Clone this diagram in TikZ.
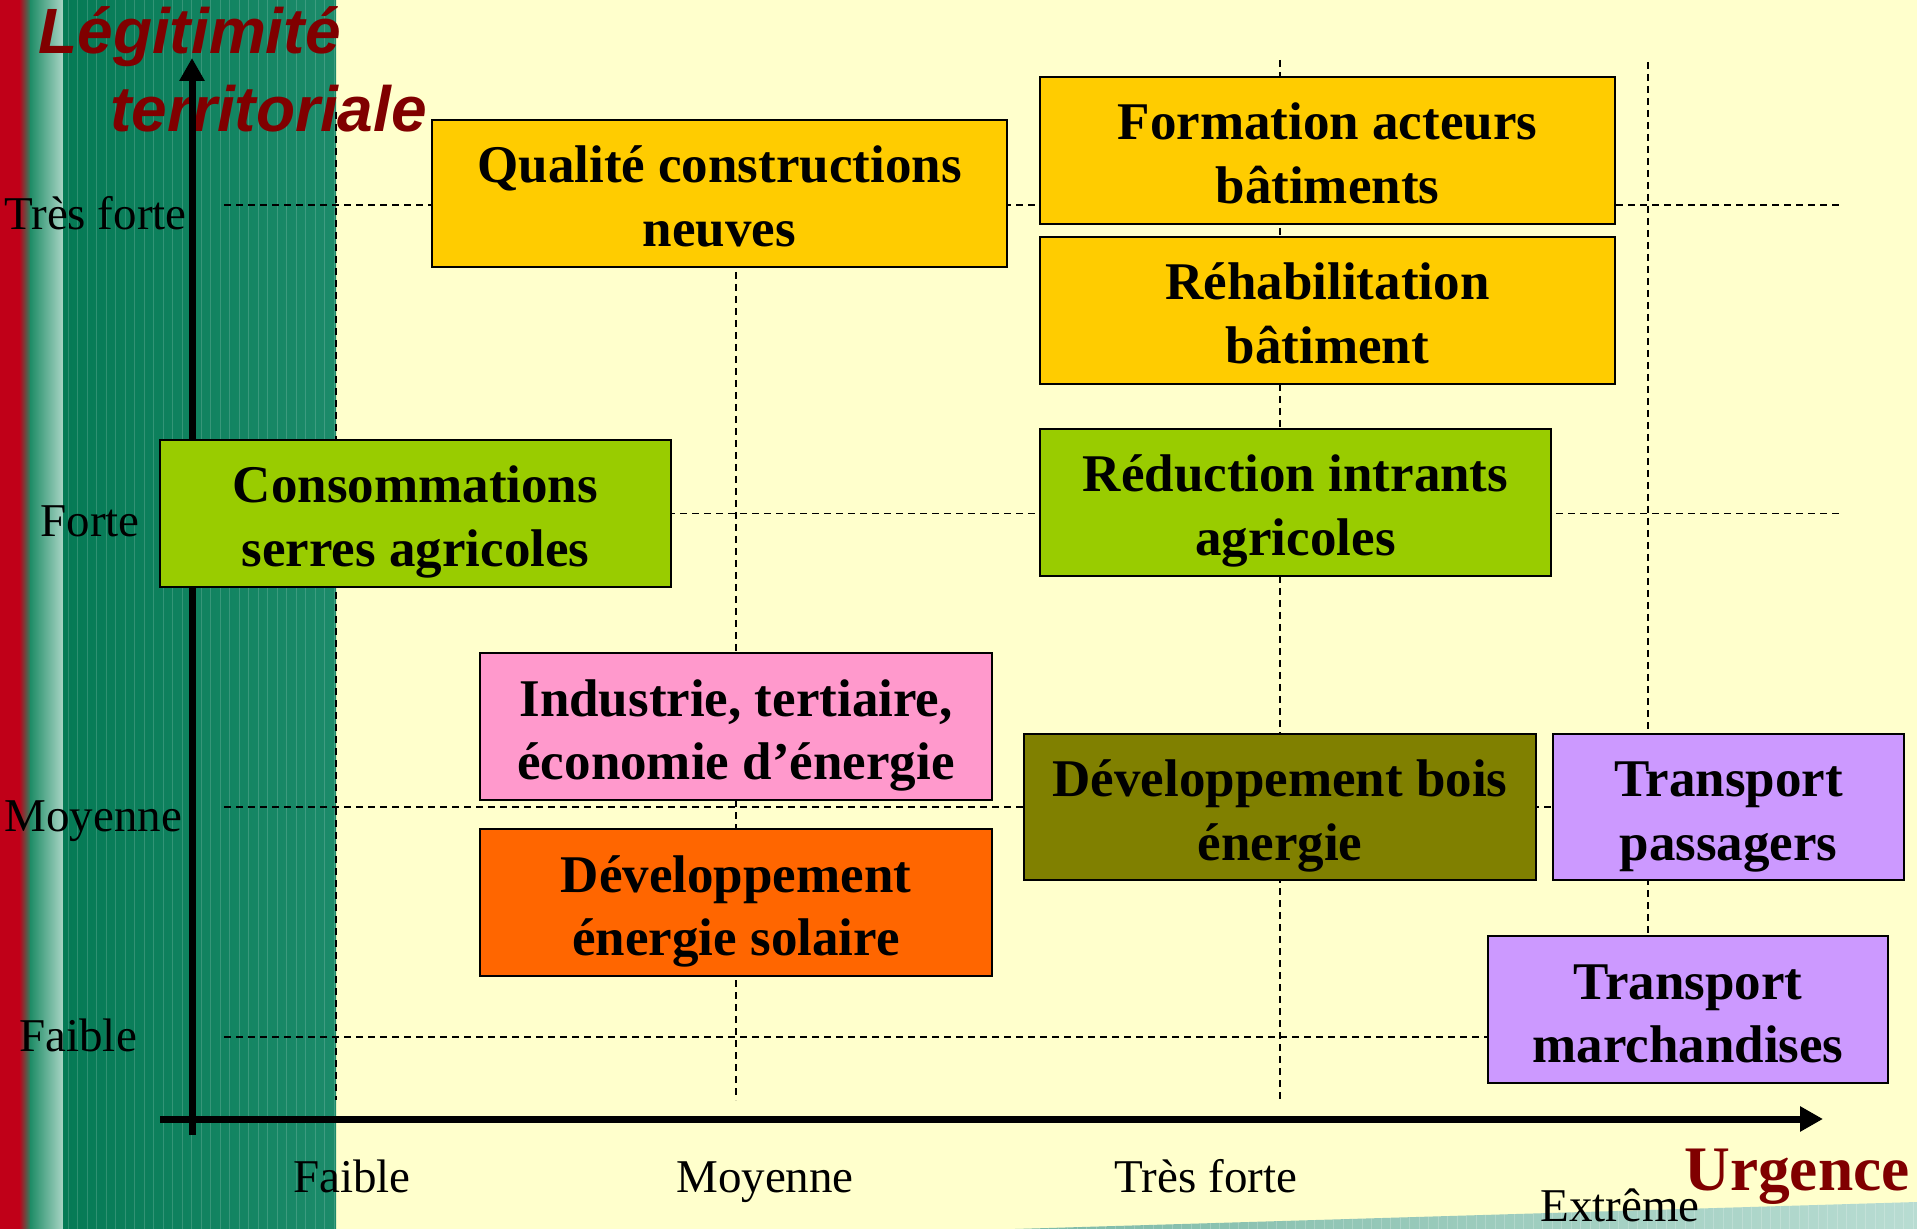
\documentclass[tikz,border=0pt]{standalone}
\usepackage{fontspec}
\setmainfont{Liberation Serif}
\newfontfamily\titlefont{Liberation Sans}
\usetikzlibrary{arrows.meta}
\definecolor{cream}{HTML}{FFFFCC}
\definecolor{stripred}{HTML}{C00018}
\definecolor{stripgreen}{HTML}{1E8C66}
\definecolor{strippale}{HTML}{A8D4C4}
\definecolor{darkgreenA}{HTML}{057A55}
\definecolor{darkgreenB}{HTML}{1C8B6A}
\definecolor{bandA}{HTML}{7DBAA6}
\definecolor{bandB}{HTML}{B8DCD2}
\definecolor{titlered}{HTML}{800000}
\definecolor{gold}{HTML}{FFCC00}
\definecolor{leaf}{HTML}{99CC00}
\definecolor{pinkbox}{HTML}{FF99CC}
\definecolor{orangebox}{HTML}{FF6600}
\definecolor{olivebox}{HTML}{808000}
\definecolor{lavender}{HTML}{CC99FF}
\newcommand\mylab{\fontsize{23.5}{28}\selectfont}
\newcommand\boxtop{\rule{0pt}{28.3pt}}
\newcommand\boxbot{\rule[-7pt]{0pt}{7pt}}
\tikzset{
  box/.style={draw=black, line width=1pt, align=center, inner sep=0pt,
    font=\bfseries\fontsize{26.5}{31.8}\selectfont},
  gridline/.style={dash pattern=on 3.5pt off 2.5pt, line width=0.8pt},
  axisline/.style={line width=3.5pt, -{Triangle[length=11.5pt,width=12pt]}},
  lab/.style={font=\mylab, inner sep=0pt},
  titletext/.style={font=\titlefont\bfseries\itshape\fontsize{32}{38}\selectfont, text=titlered, inner sep=0pt, anchor=base west}
}
\begin{document}
\begin{tikzpicture}[x=0.5pt,y=-0.5pt]
\useasboundingbox (0,0) rectangle (1917,1229);
% background
\fill[cream] (0,0) rectangle (1917,1229);
\fill[stripred] (0,0) rectangle (20,1229);
\shade[left color=stripred, right color=stripgreen] (19,0) rectangle (31,1229);
\shade[left color=stripgreen, right color=strippale] (30,0) rectangle (63,1229);
\shade[left color=darkgreenA, right color=darkgreenB] (63,0) rectangle (336,1229);
\foreach \i in {0,...,28} \draw[white, opacity=0.16, line width=0.5pt] ({68+9.5*\i},0) -- ({68+9.5*\i},1229);
% bottom right band
\begin{scope}
\clip (1015,1229) -- (1917,1202) -- (1917,1229) -- cycle;
\shade[left color=bandA, right color=bandB] (1015,1195) rectangle (1917,1229);
\foreach \i in {0,...,95} \draw[white, opacity=0.2, line width=0.5pt] ({1020+9.5*\i},1195) -- ({1020+9.5*\i},1229);
\end{scope}
% grid coordinates
\coordinate (h1a) at (224,205);  \coordinate (h1b) at (1840,205);
\coordinate (h2a) at (224,513.5);\coordinate (h2b) at (1840,513.5);
\coordinate (h3a) at (224,807);  \coordinate (h3b) at (1700,807);
\coordinate (h4a) at (224,1037); \coordinate (h4b) at (1500,1037);
\coordinate (v1a) at (336,112);  \coordinate (v1b) at (336,1100);
\coordinate (v2a) at (736,260);  \coordinate (v2b) at (736,1100);
\coordinate (v3a) at (1280,60);  \coordinate (v3b) at (1280,1100);
\coordinate (v4a) at (1648,62);  \coordinate (v4b) at (1648,950);
\draw[gridline] (h1a) -- (h1b);
\draw[gridline] (h2a) -- (h2b);
\draw[gridline] (h3a) -- (h3b);
\draw[gridline] (h4a) -- (h4b);
\draw[gridline] (v1a) -- (v1b);
\draw[gridline] (v2a) -- (v2b);
\draw[gridline] (v3a) -- (v3b);
\draw[gridline] (v4a) -- (v4b);
% title
\node[titletext] (t1) at (38,54) {Légitimité};
\node[titletext] (t2) at (110,132) {territoriale};
% axes
\coordinate (yo) at (192,1135); \coordinate (ytip) at (192,58);
\coordinate (xo) at (160,1119); \coordinate (xtip) at (1823,1119);
\draw[axisline] (yo) -- (ytip);
\draw[axisline] (xo) -- (xtip);
% boxes
\node[box, fill=gold, minimum width=287.5pt, minimum height=73.5pt] (b1) at (719.5,193.5) {\boxtop Qualité constructions\\neuves\boxbot};
\node[box, fill=gold, minimum width=287.5pt, minimum height=73.5pt] (b2) at (1327.5,150.5) {\boxtop Formation acteurs\\bâtiments\boxbot};
\node[box, fill=gold, minimum width=287.5pt, minimum height=73.5pt] (b3) at (1327.5,310.5) {\boxtop Réhabilitation\\bâtiment\boxbot};
\node[box, fill=leaf, minimum width=255.5pt, minimum height=73.5pt] (b4) at (415.5,513.5) {\boxtop Consommations\\serres agricoles\boxbot};
\node[box, fill=leaf, minimum width=255.5pt, minimum height=73.5pt] (b5) at (1295.5,502.5) {\boxtop Réduction intrants\\agricoles\boxbot};
\node[box, fill=pinkbox, minimum width=256pt, minimum height=73.5pt] (b6) at (736,726.5) {\boxtop Industrie, tertiaire,\\économie d’énergie\boxbot};
\node[box, fill=orangebox, minimum width=256pt, minimum height=73.5pt] (b7) at (736,902.5) {\boxtop Développement\\énergie solaire\boxbot};
\node[box, fill=olivebox, minimum width=256pt, minimum height=73pt] (b8) at (1280,807) {\boxtop Développement bois\\énergie\boxbot};
\node[box, fill=lavender, minimum width=175.5pt, minimum height=73pt] (b9) at (1728.5,807) {\boxtop Transport\\passagers\boxbot};
\node[box, fill=lavender, minimum width=200pt, minimum height=73.5pt] (b10) at (1688,1009.5) {\boxtop Transport\\marchandises\boxbot};
% y labels
\node[lab, anchor=base west] (ly1) at (4,230) {Très forte};
\node[lab, anchor=base west] (ly2) at (40,537) {Forte};
\node[lab, anchor=base west] (ly3) at (4,831) {Moyenne};
\node[lab, anchor=base west] (ly4) at (19,1051) {Faible};
% x labels
\node[lab, anchor=base] (lx1) at (352,1192) {Faible};
\node[lab, anchor=base] (lx2) at (765,1192) {Moyenne};
\node[lab, anchor=base] (lx3) at (1206,1192) {Très forte};
\node[lab, anchor=base] (lx4) at (1620,1221) {Extrême};
\node[anchor=base, inner sep=0pt, text=titlered, font=\bfseries\fontsize{31.7}{38}\selectfont] (urg) at (1797,1190) {Urgence};
\end{tikzpicture}
\end{document}
